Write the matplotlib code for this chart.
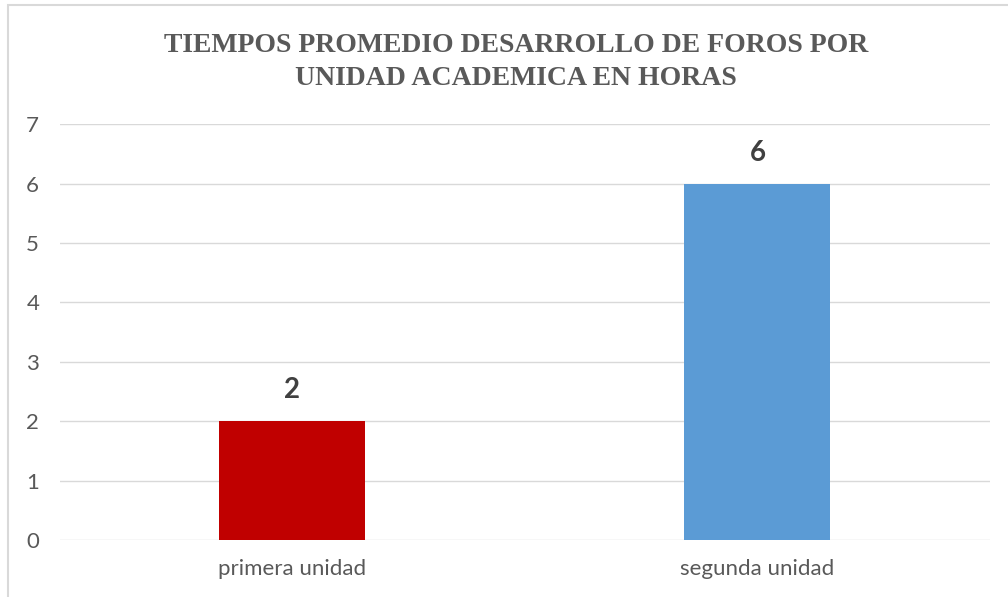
import matplotlib.pyplot as plt
from matplotlib.patches import Rectangle

categories = ['primera unidad', 'segunda unidad']
horas = [2, 6]
colores = ['#C00000', '#5B9BD5']
y_ticks = [0, 1, 2, 3, 4, 5, 6, 7]

fig = plt.figure(figsize=(10.08, 5.97), dpi=100)
ax = fig.add_axes([0.0595, 0.0955, 0.9225, 0.6965])

x = range(len(categories))
bars = ax.bar(x, horas, width=0.314, color=colores, zorder=3)

for b, v in zip(bars, horas):
    ax.annotate(str(v), (b.get_x() + b.get_width() / 2, v), xytext=(0, 13),
                textcoords='offset points', ha='center', va='bottom',
                fontsize=20, fontweight='bold', color='#404040', family='Lato')

ax.set_xlim(-0.5, 1.5)
ax.set_ylim(0, 7)
ax.set_yticks(y_ticks)
ax.set_xticks(list(x))
ax.set_xticklabels(categories)
ax.tick_params(axis='both', length=0, labelsize=16, labelcolor='#595959')
ax.tick_params(axis='y', pad=15)
ax.tick_params(axis='x', pad=14)
for lbl in ax.get_xticklabels() + ax.get_yticklabels():
    lbl.set_family('Lato')
ax.grid(axis='y', color='#d9d9d9', linewidth=1, zorder=0)
for s in ax.spines.values():
    s.set_visible(False)
ax.set_facecolor('none')

fig.text(0.512, 0.896, 'TIEMPOS PROMEDIO DESARROLLO DE FOROS POR\nUNIDAD ACADEMICA EN HORAS',
         ha='center', va='center', fontsize=20, fontweight='bold', color='#595959',
         family='Liberation Serif', linespacing=1.4)

# marco del grafico
fig.patches.append(Rectangle((0.008, -0.01), 1.1, 1.0 - 0.008 + 0.01, transform=fig.transFigure,
                             fill=False, edgecolor='#d9d9d9', linewidth=1.5))

plt.savefig('out.png', dpi=100)
